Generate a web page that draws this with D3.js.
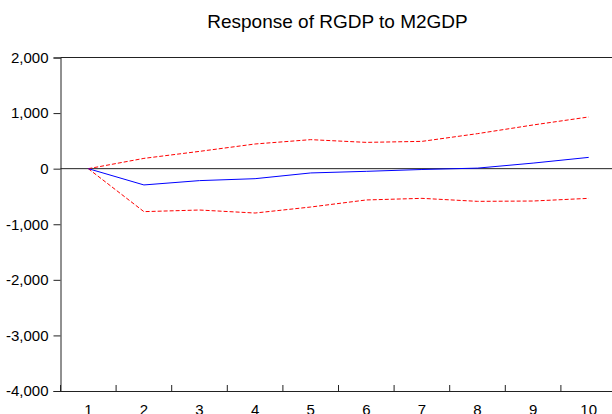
<!DOCTYPE html>
<html><head><meta charset="utf-8">
<script src="https://cdn.jsdelivr.net/npm/d3@7"></script>
<style>body{margin:0;background:#fff}svg{display:block}</style>
</head><body>
<svg id="c" width="612" height="414"></svg>
<script>
const periods = [1,2,3,4,5,6,7,8,9,10];
const response = [0,-293,-215,-180,-77,-48,-15,10,100,203];
const upper = [0,185,311,444,522,473,491,630,786,930];
const lower = [0,-773,-744,-798,-690,-563,-534,-588,-582,-534];
const yTicks = [2000,1000,0,-1000,-2000,-3000,-4000];
const title = "Response of RGDP to M2GDP";

const svg = d3.select("#c");
const m = {left:60.5, top:57.5, right:616.5, bottom:391};
const x = d3.scaleBand().domain(periods).range([m.left, m.right]);
const y = d3.scaleLinear().domain([-4000,2000]).range([m.bottom, m.top]);
const cx = d => x(d) + x.bandwidth()/2;
const font = "'Liberation Sans', Arial, sans-serif";
const fmt = d => d3.format(",")(d).replace("\u2212","-");

svg.append("text").attr("x",337.5).attr("y",28).attr("text-anchor","middle")
  .attr("font-family",font).attr("font-size",19).attr("fill","#000").text(title);

// top border
svg.append("line").attr("x1",m.left).attr("x2",m.right).attr("y1",m.top).attr("y2",m.top)
  .attr("stroke","#222").attr("stroke-width",1);

// y axis
const ya = svg.append("g").attr("transform",`translate(${m.left},0)`)
  .call(d3.axisLeft(y).tickValues(yTicks).tickSize(7).tickPadding(5).tickFormat(fmt));
ya.select(".domain").attr("stroke","#222");
ya.selectAll(".tick line").attr("stroke","#222");
ya.selectAll("text").attr("font-family",font).attr("font-size",15).attr("fill","#000");

// x axis
const xa = svg.append("g").attr("transform",`translate(0,${m.bottom})`)
  .call(d3.axisBottom(x).tickSize(0).tickPadding(13));
xa.select(".domain").attr("stroke","#222");
xa.selectAll("text").attr("font-family",font).attr("font-size",15).attr("fill","#000");
// boundary ticks between periods (inside)
svg.append("g").selectAll("line").data(periods).join("line")
  .attr("x1",d=>x(d)).attr("x2",d=>x(d)).attr("y1",m.bottom).attr("y2",m.bottom-6)
  .attr("stroke","#222");

// zero line
svg.append("line").attr("x1",m.left).attr("x2",m.right).attr("y1",y(0)).attr("y2",y(0))
  .attr("stroke","#222").attr("stroke-width",1);

const line = d3.line().x((d,i)=>cx(periods[i])).y(d=>y(d));
svg.append("path").datum(upper).attr("d",line).attr("fill","none")
  .attr("stroke","#ff0000").attr("stroke-width",1).attr("stroke-dasharray","4,2");
svg.append("path").datum(lower).attr("d",line).attr("fill","none")
  .attr("stroke","#ff0000").attr("stroke-width",1).attr("stroke-dasharray","4,2");
svg.append("path").datum(response).attr("d",line).attr("fill","none")
  .attr("stroke","#0000ff").attr("stroke-width",1);
</script>
</body></html>
